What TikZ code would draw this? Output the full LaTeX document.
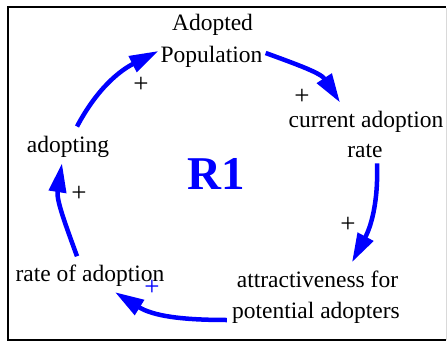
\documentclass[tikz,border=0pt]{standalone}
\usepackage{fontspec}
\setmainfont{Liberation Serif}
\usetikzlibrary{arrows.meta}
\definecolor{loopblue}{RGB}{0,0,255}
\begin{document}
\begin{tikzpicture}[x=1pt,y=1pt,
  lbl/.style={inner sep=0pt,anchor=base,font=\fontsize{23.5}{28}\selectfont},
  sign/.style={inner sep=0pt,anchor=center,font=\fontsize{27}{30}\selectfont},
  link/.style={draw=loopblue,line width=4.5pt,
    -{Triangle[length=29pt,width=17pt]}}]
\useasboundingbox (0,0) rectangle (447,341);
% frame
\draw[line width=1.5pt] (8,1) -- (446,1);
\draw[gray!30,line width=1pt] (446,1) -- (446,333);
\draw[line width=2.5pt] (8,0.5) -- (8,334) -- (446,334);
% variables
\node[lbl] (popA) at (212.5,310) {Adopted};
\node[lbl] (pop) at (211.5,279) {Population};
\node[lbl] (cur) at (366,214) {current adoption};
\node[lbl] (curB) at (365,184) {rate};
\node[lbl] (adopting) at (68,189) {adopting};
\node[lbl] (rateof) at (90,60) {rate of adoption};
\node[lbl] (attrA) at (317.5,54) {attractiveness for};
\node[lbl] (attr) at (316,23) {potential adopters};
\node[inner sep=0pt,anchor=base,text=loopblue,font=\fontsize{47}{50}\selectfont\bfseries] (r1) at (216,152) {R1};
% polarity signs
\node[sign] (p1) at (141,256) {+};
\node[sign] (p2) at (302,244) {+};
\node[sign] (p3) at (348,116) {+};
\node[sign,text=loopblue] (p4) at (152,53) {+};
\node[sign] (p5) at (79,147) {+};
% links
\draw[link] ([xshift=9pt,yshift=9pt]adopting.north) to[out=62,in=-153] ([xshift=-2pt,yshift=11pt]pop.base west);
\draw[link] ([xshift=3pt,yshift=9pt]pop.base east) to[out=-20,in=123] ([xshift=-26pt,yshift=8pt]cur.north);
\draw[link] ([xshift=12pt,yshift=-6pt]curB.south) to[out=-88,in=62] ([xshift=34.5pt,yshift=8pt]attrA.north);
\draw[link] ([xshift=-5pt,yshift=-2pt]attr.base west) to[out=180,in=-32] ([xshift=25pt,yshift=-6pt]rateof.south);
\draw[link] ([xshift=-13pt,yshift=8pt]rateof.north) to[out=110,in=-99] ([xshift=-6pt,yshift=-6pt]adopting.south);
\end{tikzpicture}
\end{document}
